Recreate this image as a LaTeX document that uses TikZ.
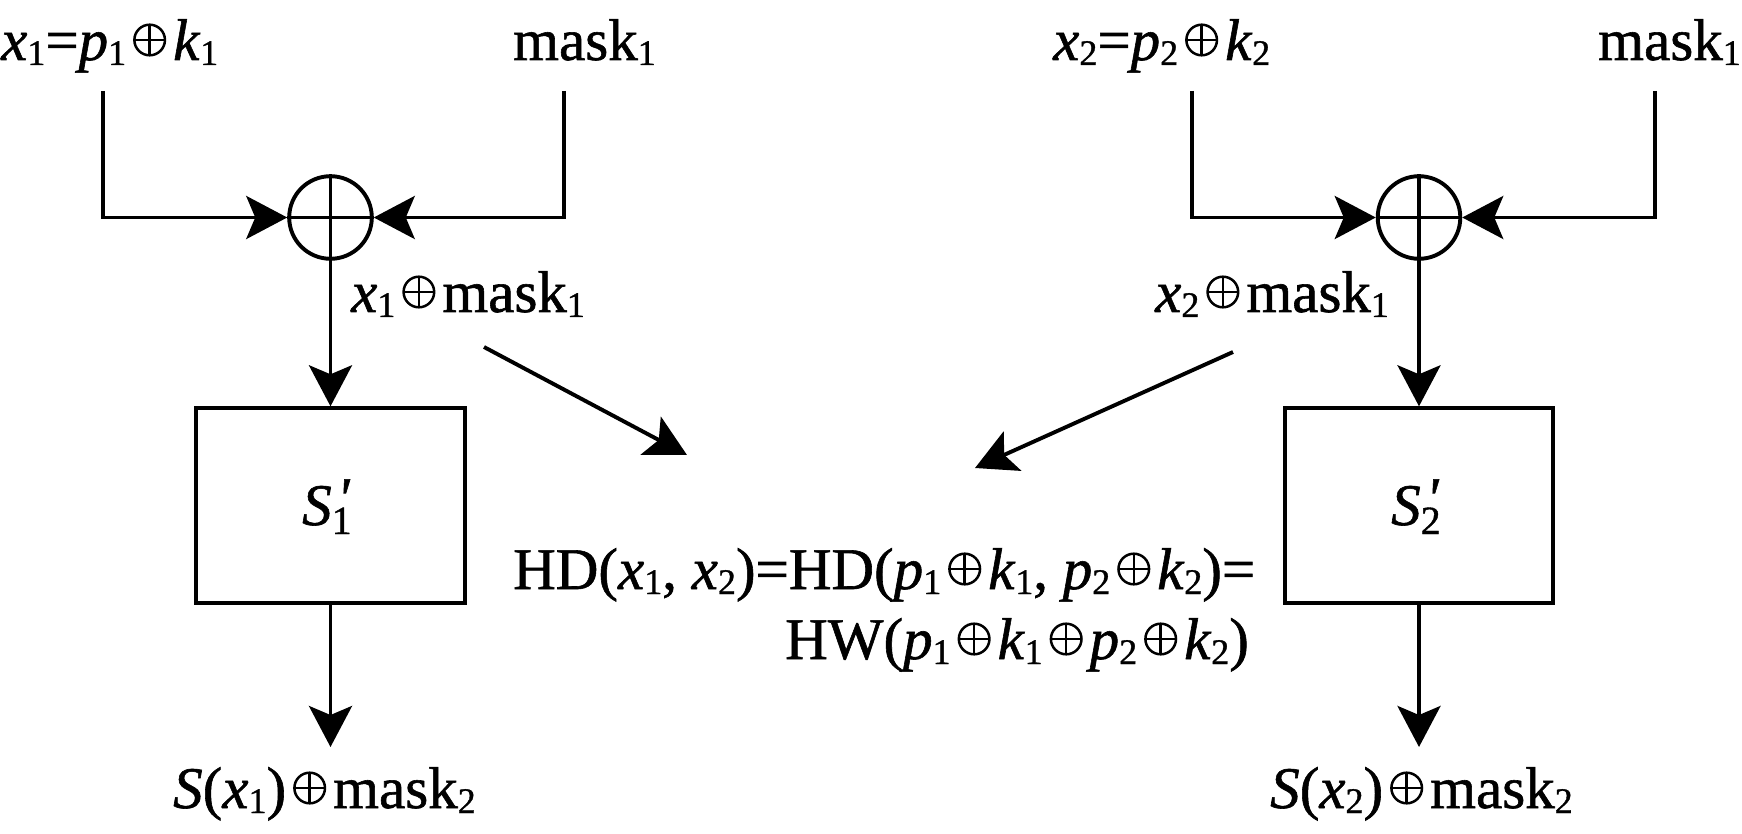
\documentclass[tikz,border=0pt]{standalone}
\usepackage{graphicx}
\usepackage{fontspec}
\setmainfont{Liberation Serif}[BoldFont={Liberation Serif}, BoldFeatures={FakeBold=1}, BoldItalicFont={Liberation Serif Italic}, BoldItalicFeatures={FakeBold=1}]
\usetikzlibrary{arrows.meta}
\newcommand{\sbs}[1]{\raisebox{-5pt}{\fontsize{36}{36}\selectfont #1}}
\newcommand{\sbb}[1]{\raisebox{-9pt}{\fontsize{40}{40}\selectfont #1}}
\newcommand{\xo}{\tikz[baseline=0pt,x=1pt,y=1pt,line width=2.5pt]{\useasboundingbox (0,0) rectangle (47,1); \draw (23.5,20) circle (15.3); \draw (8.2,20) -- (38.8,20) (23.5,4.7) -- (23.5,35.3);}}
\newcommand{\prm}{\rlap{\hspace{5pt}\raisebox{7pt}{\textit{\textquotesingle}}}}
\tikzset{
  lbl/.style={inner sep=0pt, font=\fontsize{59}{64}\selectfont\bfseries, anchor=base west},
  ln/.style={line width=3.9pt},
  arr/.style={ln, -{Stealth[length=41pt,width=43pt,inset=9pt]}},
  xorc/.style={circle, draw, line width=3.9pt, minimum size=82.6pt, inner sep=0pt},
  sbox/.style={draw, line width=3.9pt, minimum width=268.5pt, minimum height=194.5pt, inner sep=0pt}
}
\begin{document}
\begin{tikzpicture}[x=1pt,y=-1pt]
\useasboundingbox (0,0) rectangle (1742,834);
% top texts
\node[lbl] (t1) at (1,60) {\textit{x}\sbs{1}=\textit{p}\sbs{1}\xo\textit{k}\sbs{1}};
\node[lbl] (t2) at (513,60) {mask\sbs{1}};
\node[lbl] (t3) at (1053,60) {\textit{x}\sbs{2}=\textit{p}\sbs{2}\xo\textit{k}\sbs{2}};
\node[lbl] (t4) at (1598,60) {mask\sbs{1}};
% xor circles
\node[xorc] (c1) at (330.5,217.5) {};
\node[xorc] (c2) at (1419,217.5) {};
\draw[ln] (c1.north) -- (c1.south);
\draw[ln] (c1.west) -- (c1.east);
\draw[ln] (c2.north) -- (c2.south);
\draw[ln] (c2.west) -- (c2.east);
% input lines
\coordinate (a1) at (103,91);
\coordinate (b1) at (564,91);
\coordinate (a2) at (1192,91);
\coordinate (b2) at (1655,91);
\draw[arr] (a1) |- (c1.west);
\draw[arr] (b1) |- (c1.east);
\draw[arr] (a2) |- (c2.west);
\draw[arr] (b2) |- (c2.east);
% S boxes
\node[sbox] (s1) at (330.5,505.5) {};
\node[sbox] (s2) at (1419,505.5) {};
\node[lbl] (s1t) at (302,525) {\textit{S}\prm\sbb{1}};
\node[lbl] (s2t) at (1391,525) {\textit{S}\prm\sbb{2}};
\draw[arr] (c1.south) -- (s1.north);
\draw[arr] (c2.south) -- (s2.north);
% labels
\node[lbl] (l1) at (351,312) {\textit{x}\sbs{1}\xo mask\sbs{1}};
\node[lbl] (l2) at (1155,312) {\textit{x}\sbs{2}\xo mask\sbs{1}};
% outputs
\coordinate (e1) at (330.5,747);
\coordinate (e2) at (1419,747);
\draw[arr] (s1.south) -- (e1);
\draw[arr] (s2.south) -- (e2);
\node[lbl] (o1) at (173,808) {\textit{S}(\textit{x}\sbs{1})\xo mask\sbs{2}};
\node[lbl] (o2) at (1270,808) {\textit{S}(\textit{x}\sbs{2})\xo mask\sbs{2}};
% HD text
\node[lbl] (h1) at (513,589) {HD(\textit{x}\sbs{1}, \textit{x}\sbs{2})=HD(\textit{p}\sbs{1}\xo\textit{k}\sbs{1}, \textit{p}\sbs{2}\xo\textit{k}\sbs{2})=};
\node[lbl] (h2) at (785,659) {HW(\textit{p}\sbs{1}\xo\textit{k}\sbs{1}\xo\textit{p}\sbs{2}\xo\textit{k}\sbs{2})};
% diagonal arrows
\coordinate (d1s) at (484,347);
\coordinate (d1e) at (687,455);
\coordinate (d2s) at (1233,352);
\coordinate (d2e) at (975,468);
\draw[arr] (d1s) -- (d1e);
\draw[arr] (d2s) -- (d2e);
\end{tikzpicture}
\end{document}
